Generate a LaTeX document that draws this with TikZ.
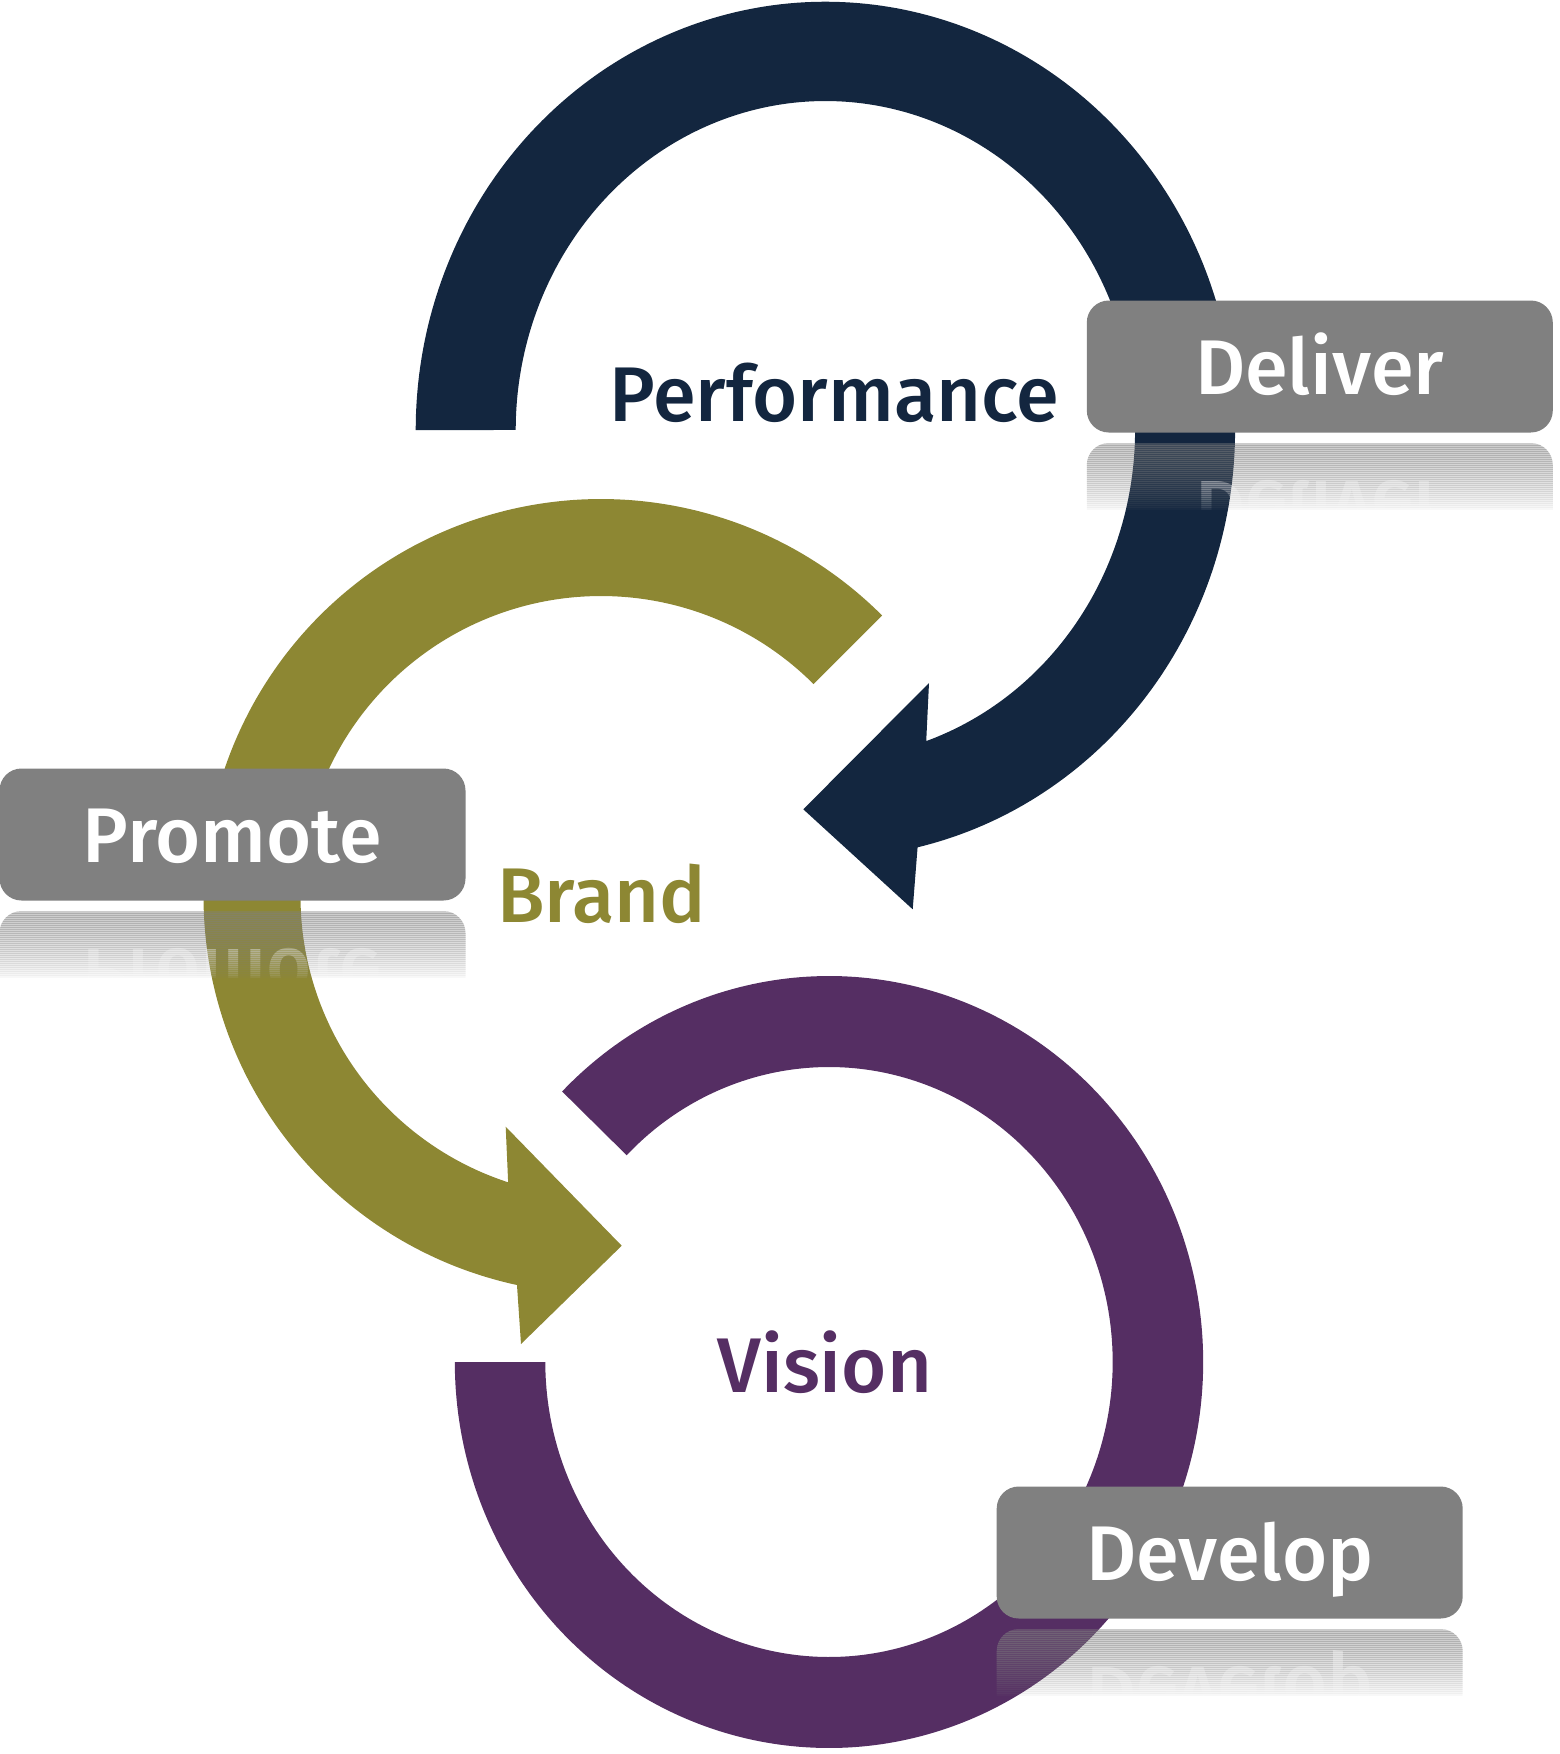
\documentclass[tikz,border=0pt]{standalone}
\usepackage{fontspec}
\setmainfont{Fira Sans}[BoldFont={Fira Sans Medium}]

\definecolor{navyband}{HTML}{13263F}
\definecolor{oliveband}{HTML}{8D8733}
\definecolor{plumband}{HTML}{552E63}
\definecolor{tagfill}{HTML}{808080}

% Mirrored copy of a tag below the tag itself, built from thin slices whose
% opacity falls from about 0.4 at the top edge to nothing half way down.
% #1 name, #2 x centre, #3 y centre of the tag, #4 text
\newcommand\tagmirror[4]{%
  \foreach \k in {0,...,32}{%
    \pgfmathsetmacro\slicealpha{max(0,0.40-0.40*((2*\k+1)/72)^1.5)}%
    \begin{scope}
      \clip (#2-240,#3+76.5+2*\k) rectangle (#2+240,#3+78.5+2*\k);
      \node[tag, yscale=-1, transform shape, fill opacity=\slicealpha,
            text opacity=\slicealpha] (#1-\k) at (#2,#3+142.5) {#4};
    \end{scope}}}

\begin{document}
\begin{tikzpicture}[x=1pt, y=-1pt,
  tag/.style={rectangle, rounded corners=22pt, fill=tagfill, minimum width=466pt,
              minimum height=132pt, inner sep=0pt, text height=56pt, text depth=0pt,
              text=white, font=\fontsize{77.5}{93}\selectfont\bfseries},
  title/.style={anchor=base, inner sep=0pt, font=\fontsize{77.5}{93}\selectfont\bfseries}]

\useasboundingbox (0,0) rectangle (1559,1754);

% Performance loop: open on the left, turning clockwise into an arrow head
\fill[navyband]
  plot[domain=180:437, samples=240] ({825.4+409.7*cos(\x)}, {430+428.3*sin(\x)})
  -- (912.7,909.3) -- (803.3,809.3) -- (929,683)
  -- plot[domain=431:180, samples=240] ({825.4+309.7*cos(\x)}, {430+329*sin(\x)})
  -- cycle;

% Brand loop: starts upper right, turns anticlockwise into an arrow head
\fill[oliveband]
  plot[domain=-45:-257.8, samples=240] ({601+397.5*cos(\x)}, {896.5+397.5*sin(\x)})
  -- (521,1344) -- (621.7,1245.7) -- (505.7,1126.7)
  -- plot[domain=-252:-45, samples=240] ({601+300.5*cos(\x)}, {896.5+300.5*sin(\x)})
  -- cycle;

% Vision ring: open band from the left round to the upper left
\fill[plumband]
  plot[domain=180:-135.5, samples=300] ({829+374.2*cos(\x)}, {1362+386*sin(\x)})
  -- plot[domain=-135.5:180, samples=300] ({829+283.7*cos(\x)}, {1362+295*sin(\x)})
  -- cycle;

% mirrored tags
\tagmirror{deliverm}{1319.8}{366.5}{Deliver}
\tagmirror{promotem}{232.5}{834.5}{Promote}
\tagmirror{developm}{1229.7}{1552.5}{Develop}

% tags
\node[tag] (deliver) at (1319.8,366.5) {Deliver};
\node[tag] (promote) at (232.5,834.5) {Promote};
\node[tag] (develop) at (1229.7,1552.5) {Develop};

% loop titles
\node[title, text=navyband] (performance) at (834.5,421.5) {Performance};
\node[title, text=oliveband] (brand) at (601.6,922.7) {Brand};
\node[title, text=plumband] (vision) at (824.8,1392.4) {Vision};
\end{tikzpicture}
\end{document}
